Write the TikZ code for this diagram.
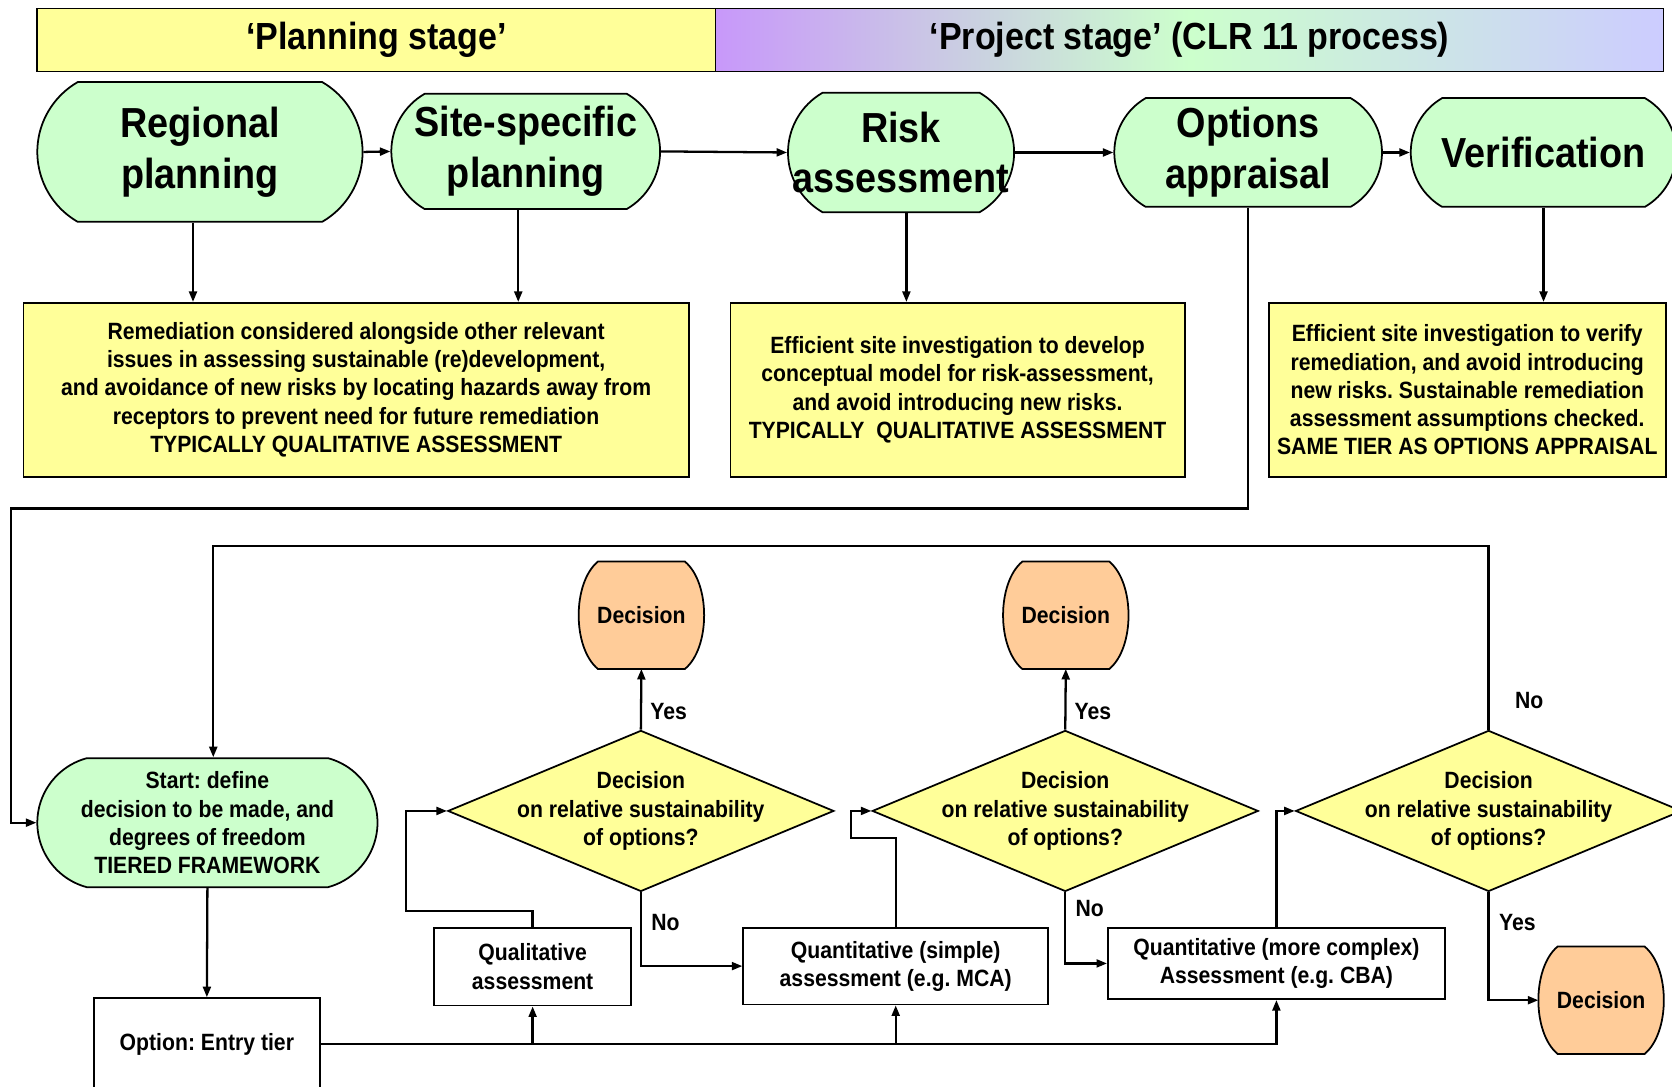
\documentclass[tikz,border=0pt]{standalone}
\usepackage{fontspec}
\setmainfont{Liberation Sans}[FakeStretch=0.9]
\usetikzlibrary{arrows.meta, shapes.geometric, shapes.misc, backgrounds}
\definecolor{pgreen}{RGB}{204,255,204}
\definecolor{pyellow}{RGB}{255,255,153}
\definecolor{porange}{RGB}{255,204,153}
\definecolor{ppurple}{RGB}{200,152,250}
\definecolor{pblue}{RGB}{204,204,255}
\newlength{\pu}
\setlength{\pu}{0.21326mm}
\frenchspacing

\begin{document}
\begin{tikzpicture}[x=0.21326mm, y=-0.21326mm,
  hdr/.style={draw, line width=1pt, minimum height=59\pu,
              font=\fontsize{21.5}{24}\selectfont\bfseries},
  term/.style={rounded rectangle, rounded rectangle arc length=120, draw,
               line width=1pt, fill=pgreen, inner sep=0pt},
  toptext/.style={font=\fontsize{23.9}{29}\selectfont\bfseries, align=center},
  txt/.style={font=\fontsize{13.4}{16}\selectfont\bfseries, align=center},
  note/.style={rectangle, draw, line width=1pt, fill=pyellow, txt},
  tierbox/.style={rectangle, draw, line width=1pt, fill=white, txt},
  decide/.style={diamond, draw, line width=1pt, fill=pyellow, inner sep=0pt,
                 minimum width=362\pu, minimum height=151\pu,
                 label={[txt]center:{Decision\\on relative sustainability\\of options?}}},
  outcome/.style={rectangle, inner sep=0pt, minimum width=117\pu, minimum height=100\pu, txt},
  barrel/.style={draw, line width=1pt, fill=porange},
  arr/.style={-{Triangle[length=6pt,width=4.5pt]}, line width=1.3pt},
  lbl/.style={txt}
]
\useasboundingbox (0,0) rectangle (1568,1019);

% Stage headers
\node[hdr, fill=pyellow, minimum width=636\pu] (plan) at (353,37.5) {‘Planning stage’};
\node[hdr, left color=ppurple, right color=pblue, middle color=pgreen,
      minimum width=889\pu] (proj) at (1115.5,37.5) {‘Project stage’ (CLR 11 process)};

% Stages
\node[term, minimum width=305\pu, minimum height=131\pu,
      label={[toptext]center:{Regional\\planning}}] (reg) at (187.5,142.5) {};
\node[term, minimum width=252\pu, minimum height=108\pu,
      label={[toptext]center:{Site-specific\\planning}}] (site) at (493,142) {};
\node[term, minimum width=212\pu, minimum height=112\pu,
      label={[toptext]center:{Risk\\assessment}}] (risk) at (845,143) {};
\node[term, minimum width=251\pu, minimum height=102\pu,
      label={[toptext]center:{Options\\appraisal}}] (opt) at (1170.5,143) {};
\node[term, minimum width=249\pu, minimum height=102\pu,
      label={[toptext]center:{Verification}}] (ver) at (1447.5,143) {};
\draw[arr] (reg.east) -- (site.west);
\draw[arr] (site.east) -- (risk.west);
\draw[arr] (risk.east) -- (opt.west);
\draw[arr] (opt.east) -- (ver.west);

% Notes
\node[note, minimum width=624\pu, minimum height=163\pu] (bplan) at (334,365.5)
  {Remediation considered alongside other relevant\\issues in assessing sustainable (re)development,\\and avoidance of new risks by locating hazards away from\\receptors to prevent need for future remediation\\TYPICALLY QUALITATIVE ASSESSMENT};
\node[note, minimum width=426\pu, minimum height=163\pu] (brisk) at (898,365.5)
  {Efficient site investigation to develop\\conceptual model for risk-assessment,\\and avoid introducing new risks.\\TYPICALLY\ \ QUALITATIVE ASSESSMENT};
\node[note, minimum width=372\pu, minimum height=163\pu] (bver) at (1376,365.5)
  {Efficient site investigation to verify\\remediation, and avoid introducing\\new risks. Sustainable remediation\\assessment assumptions checked.\\SAME TIER AS OPTIONS APPRAISAL};
\draw[arr] ([xshift=-6.5\pu]reg.south) -- ([xshift=-6.5\pu]reg.south |- bplan.north);
\draw[arr] ([xshift=-7\pu]site.south) -- ([xshift=-7\pu]site.south |- bplan.north);
\draw[arr] ([xshift=5\pu]risk.south) -- ([xshift=5\pu]risk.south |- brisk.north);
\draw[arr] (ver.south) -- (ver.south |- bver.north);

% Tiered framework
\node[term, rounded rectangle arc length=150, minimum width=319\pu, minimum height=121\pu,
      label={[txt]center:{Start: define\\decision to be made, and\\degrees of freedom\\TIERED FRAMEWORK}}] (start) at (194.5,771.5) {};
\node[tierbox, minimum width=212\pu, minimum height=86\pu] (entry) at (194,979) {Option: Entry tier};
\node[tierbox, minimum width=185\pu, minimum height=73\pu] (qual) at (499.5,906.5) {Qualitative\\assessment};
\node[tierbox, minimum width=286\pu, minimum height=72\pu] (qsim) at (840,906) {Quantitative (simple)\\assessment (e.g. MCA)};
\node[tierbox, minimum width=316\pu, minimum height=67\pu] (qcom) at (1197,903.5) {Quantitative (more complex)\\Assessment (e.g. CBA)};
\node[decide] (q1) at (601,760.5) {};
\node[decide] (q2) at (999,760.5) {};
\node[decide] (q3) at (1396,760.5) {};
\node[outcome] (d1) at (601.5,577) {Decision};
\node[outcome] (d2) at (999.5,577) {Decision};
\node[outcome] (d3) at (1501.5,938) {Decision};

% barrel outlines behind the Decision texts
\begin{scope}[on background layer]
\foreach \d in {d1,d2,d3}
  \draw[barrel] ([xshift=18\pu]\d.north west) -- ([xshift=-18\pu]\d.north east)
    .. controls ([shift={(6,20)}]\d.north east) and ([shift={(6,-20)}]\d.south east)
    .. ([xshift=-18\pu]\d.south east) -- ([xshift=18\pu]\d.south west)
    .. controls ([shift={(-6,-20)}]\d.south west) and ([shift={(-6,20)}]\d.north west)
    .. cycle;
\end{scope}

\coordinate (lane) at (10,477);
\coordinate (k1) at (381,854);
\coordinate (k2) at (798,786);
\draw[arr] (opt.south) |- (lane) |- (start.west);
\draw[arr] (q3.north) -- ++(0,-172) -| ([xshift=5.5\pu]start.north);
\draw[arr] (start.south) -- (entry.north);
\draw[arr] (entry.east) -| (qcom.south);
\draw[arr] (entry.east -| qual.south) -- (qual.south);
\draw[arr] (entry.east -| qsim.south) -- (qsim.south);
\draw[arr] (qual.north) |- (k1) |- (q1.west);
\draw[arr] (qsim.north) |- (k2) |- (q2.west);
\draw[arr] (qcom.north) |- (q3.west);
\draw[arr] (q1.north) -- (d1.south);
\draw[arr] (q2.north) -- (d2.south);
\draw[arr] (q1.south) |- (qsim.west);
\draw[arr] (q2.south) |- (qcom.west);
\draw[arr] (q3.south) |- (d3.west);

% Yes / No
\node[lbl] (yes1) at (627,667) {Yes};
\node[lbl] (yes2) at (1025,667) {Yes};
\node[lbl] (yes3) at (1423,865) {Yes};
\node[lbl] (no1) at (624,865) {No};
\node[lbl] (no2) at (1022,852) {No};
\node[lbl] (no3) at (1434,657) {No};
\end{tikzpicture}
\end{document}
